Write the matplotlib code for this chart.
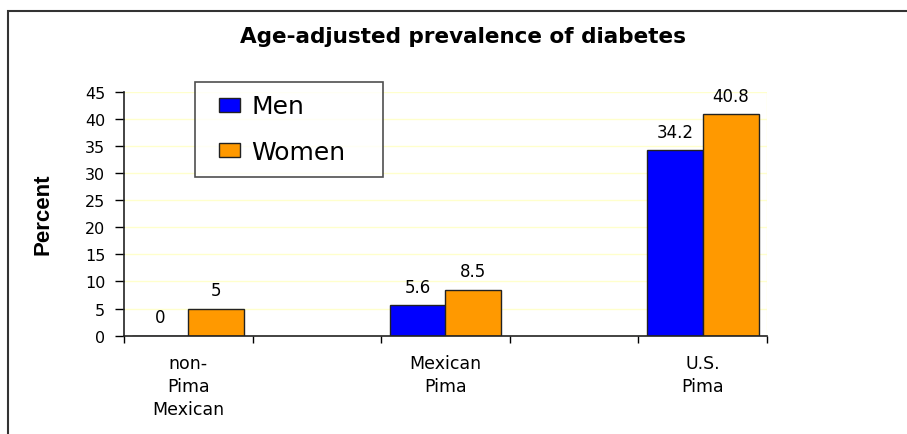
import matplotlib.pyplot as plt
from matplotlib.patches import Rectangle, Patch
from matplotlib.legend_handler import HandlerPatch

# data
groups = ["non-\nPima\nMexican", "Mexican\nPima", "U.S.\nPima"]
men = [0, 5.6, 34.2]
women = [5, 8.5, 40.8]
series = ["Men", "Women"]
yticks = [0, 5, 10, 15, 20, 25, 30, 35, 40, 45]

blue = "#0000FF"
orange = "#FF9900"
plt.rcParams["font.family"] = ["DejaVu Sans"]

fig = plt.figure(figsize=(9.07, 4.35), dpi=100)
ax = fig.add_axes([124 / 907, 98.3 / 435, 643 / 907, 244 / 435])

# every group sits on every other slot, empty slots in between
pos = [2 * i for i in range(len(groups))]
w = 0.435
ax.bar([p - w / 2 for p in pos], men, w, color=blue, edgecolor="#222222", linewidth=1)
ax.bar([p + w / 2 for p in pos], women, w, color=orange, edgecolor="#222222", linewidth=1)

for p, m, f in zip(pos, men, women):
    ax.annotate(f"{m:g}", (p - w / 2, m), xytext=(0, 7), textcoords="offset points",
                ha="center", va="bottom", fontsize=12)
    ax.annotate(f"{f:g}", (p + w / 2, f), xytext=(0, 7), textcoords="offset points",
                ha="center", va="bottom", fontsize=12)

ax.set_xlim(-0.5, 2 * len(groups) - 1.5)
ax.set_ylim(0, 45)
ax.set_yticks(yticks)
ax.tick_params(axis="y", length=6.5, width=1, pad=7, labelsize=11.5)

ax.set_xticks([i - 0.5 for i in range(2 * len(groups))])
ax.set_xticklabels([])
ax.tick_params(axis="x", which="major", length=5, width=1)
ax.set_xticks(pos, minor=True)
ax.set_xticklabels(groups, minor=True, fontsize=12.5, linespacing=1.35)
ax.tick_params(axis="x", which="minor", length=0, pad=13)

ax.set_axisbelow(True)
ax.yaxis.grid(True, color="#FFFFCC", linewidth=1)
ax.axvline(2 * len(groups) - 1.5, color="#FFFFCC", linewidth=1)
for s in ["top", "right"]:
    ax.spines[s].set_visible(False)
for s in ["left", "bottom"]:
    ax.spines[s].set_color("#222222")
    ax.spines[s].set_linewidth(1.2)

ax.set_ylabel("Percent", fontsize=16, fontweight="bold",
              family=["Liberation Sans Narrow", "Liberation Sans"])
ax.yaxis.set_label_coords(-0.109, 0.5)

fig.text(463 / 907, 1 - 37 / 435, "Age-adjusted prevalence of diabetes",
         ha="center", va="center", fontsize=15.5, fontweight="bold")


# small square swatch pushed to the right of the handle box
def swatch(legend, orig_handle, xdescent, ydescent, width, height, fontsize):
    sw = 0.64 * width
    return Rectangle((width - sw - xdescent, -ydescent), sw, height)


handles = [Patch(facecolor=blue, edgecolor="#222222"), Patch(facecolor=orange, edgecolor="#222222")]
leg = fig.legend(handles, series, loc="upper left",
                 bbox_to_anchor=(195 / 907, 1 - 178 / 435, 188 / 907, 95 / 435),
                 bbox_transform=fig.transFigure, mode="expand", fontsize=18, frameon=True,
                 fancybox=False, edgecolor="#222222", borderaxespad=0, labelspacing=0.86,
                 handlelength=1.28, handleheight=0.49, handletextpad=0.47, borderpad=0.5,
                 handler_map={Patch: HandlerPatch(patch_func=swatch)})
leg.get_frame().set_linewidth(1.2)

# outer frame of the chart
fig.add_artist(Rectangle((8 / 907, -0.1), 1.2, 1.1 - 12 / 435, transform=fig.transFigure,
                         fill=False, edgecolor="#333333", linewidth=1.5))

fig.savefig("out.png", dpi=100)
